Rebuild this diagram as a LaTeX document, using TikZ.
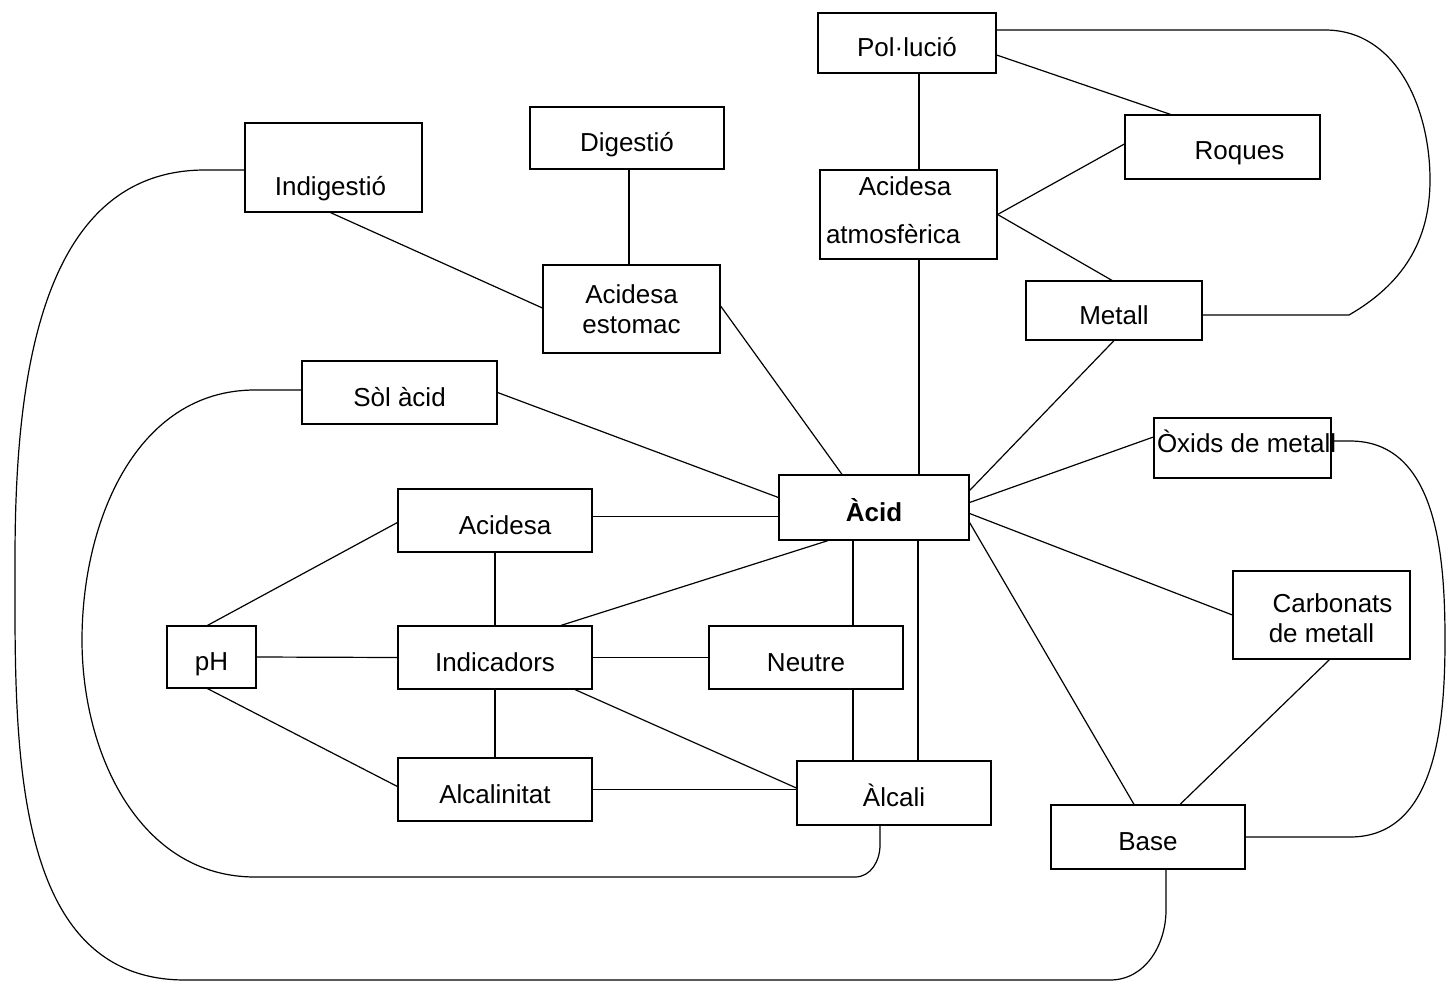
\documentclass[tikz,border=0pt]{standalone}
\usepackage{fontspec}
\setmainfont{Liberation Sans}
\begin{document}
\begin{tikzpicture}[x=1pt,y=-1pt,line width=1.2pt,
		every node/.style={font=\fontsize{26}{30}\selectfont,inner sep=0pt},
		box/.style={draw,rectangle,align=center,text height=32pt,text depth=5pt}]
	\useasboundingbox (0,0) rectangle (1448,982);
	% boxes
	\node[box,minimum width=178pt,minimum height=60pt] (pollucio) at (907,43) {Pol·lució};
	\node[box,minimum width=195pt,minimum height=64pt,label={[xshift=17pt,yshift=-6pt]center:Roques}] (roques) at (1222.5,147) {};
	\node[box,minimum width=194pt,minimum height=62pt] (digestio) at (627,138) {Digestió};
	\node[box,minimum width=177pt,minimum height=89pt,label={[xshift=-3pt,yshift=-21pt]center:Indigestió}] (indigestio) at (333.5,167.5) {};
	\node[box,minimum width=177pt,minimum height=89pt,label={[xshift=-3.5pt,yshift=28pt]center:Acidesa}] (acidatm) at (908.5,214.5) {};
	\node[anchor=west] (acidatm-b) at ([xshift=6pt,yshift=-19.5pt]acidatm.west) {atmosfèrica};
	\node[box,minimum width=177pt,minimum height=88pt,text height=,text depth=] (estomac) at (631.5,309) {Acidesa\\estomac};
	\node[box,minimum width=176pt,minimum height=59pt] (metall) at (1114,310.5) {Metall};
	\node[box,minimum width=195pt,minimum height=63pt] (solacid) at (399.5,392.5) {Sòl àcid};
	\node[box,minimum width=177pt,minimum height=60pt] (oxids) at (1242.5,448) {};
	\node[anchor=west] (oxids-t) at ([xshift=3pt,yshift=7pt]oxids.west) {Òxids de metall};
	\node[box,minimum width=190pt,minimum height=65pt,font=\fontsize{26}{30}\selectfont\bfseries] (acid) at (874,507.5) {Àcid};
	\node[box,minimum width=194pt,minimum height=63pt] (acidesa) at (495,520.5) {\hspace*{20pt}Acidesa};
	\node[box,minimum width=177pt,minimum height=88pt,label={[xshift=11pt,yshift=12pt]center:Carbonats},label={[yshift=-18pt]center:de metall}] (carbonats) at (1321.5,615) {};
	\node[box,minimum width=89pt,minimum height=62pt] (ph) at (211.5,657) {pH};
	\node[box,minimum width=194pt,minimum height=63pt] (indicadors) at (495,657.5) {Indicadors};
	\node[box,minimum width=194pt,minimum height=63pt] (neutre) at (806,657.5) {Neutre};
	\node[box,minimum width=194pt,minimum height=63pt] (alcalinitat) at (495,789.5) {Alcalinitat};
	\node[box,minimum width=194pt,minimum height=64pt] (alcali) at (894,793) {Àlcali};
	\node[box,minimum width=194pt,minimum height=64pt] (base) at (1148,837) {Base};

	% straight links
	\draw ([xshift=12pt]pollucio.south) -- ([xshift=12pt]pollucio.south |- acidatm.north);
	\draw ([yshift=-12pt]pollucio.east) -- ([xshift=-52pt]roques.north);
	\draw (acidatm.east) -- ([yshift=3pt]roques.west);
	\draw (acidatm.east) -- ([xshift=-2pt]metall.north);
	\draw ([xshift=10.5pt]acidatm.south) -- ([xshift=10.5pt]acidatm.south |- acid.north);
	\draw ([xshift=2pt]digestio.south) -- ([xshift=2pt]digestio.south |- estomac.north);
	\draw ([xshift=-3pt]indigestio.south) -- ([yshift=1pt]estomac.west);
	\draw ([yshift=3pt]estomac.east) -- ([xshift=-32pt]acid.north);
	\draw (metall.south) -- ([yshift=17pt]acid.east);
	\draw (solacid.east) -- ([yshift=10pt]acid.west);
	\draw ([yshift=5pt]acid.east) -- ([yshift=11pt]oxids.west);
	\draw ([yshift=-6pt]acid.east) -- (carbonats.west);
	\draw ([yshift=-15pt]acid.east) -- ([xshift=-14pt]base.north);
	\draw ([xshift=8pt]carbonats.south) -- ([xshift=32pt]base.north);
	\draw ([yshift=4pt]acidesa.east) -- ([yshift=4pt]acidesa.east -| acid.west);
	\draw ([xshift=-46pt]acid.south) -- ([xshift=66pt]indicadors.north);
	\draw ([xshift=-21pt]acid.south) -- ([xshift=-21pt]acid.south |- neutre.north);
	\draw ([xshift=44pt]acid.south) -- ([xshift=44pt]acid.south |- alcali.north);
	\draw ([yshift=-2pt]acidesa.west) -- ([xshift=-4pt]ph.north);
	\draw (acidesa.south) -- (indicadors.north);
	\draw (ph.east) -- (indicadors.west);
	\draw (indicadors.east) -- (neutre.west);
	\draw ([xshift=-4pt]ph.south) -- ([yshift=3pt]alcalinitat.west);
	\draw (indicadors.south) -- (alcalinitat.north);
	\draw ([xshift=80pt]indicadors.south) -- ([yshift=5pt]alcali.west);
	\draw (alcalinitat.east) -- (alcalinitat.east -| alcali.west);
	\draw ([xshift=47pt]neutre.south) -- ([xshift=47pt]neutre.south |- alcali.north);

	% curved links
	\draw ([yshift=13pt]pollucio.east) -- (1325,30) to[out=0,in=90] (1430,180)
		to[out=-90,in=30] (1349,315) -- ([yshift=-4.5pt]metall.east);
	\draw ([yshift=7pt]oxids.east) -- (1350,441) to[out=0,in=90] (1445,640)
		to[out=-90,in=0] (1350,837) -- (base.east);
	\draw ([yshift=-2.5pt]indigestio.west) -- (205,170) to[out=180,in=90] (15,560)
		to[out=-90,in=180] (185,980) -- (1110,980) to[out=0,in=-90] (1166,910)
		-- ([xshift=18pt]base.south);
	\draw ([yshift=2.5pt]solacid.west) -- (255,390) to[out=180,in=90] (82,640)
		to[out=-90,in=180] (255,877) -- (855,877) to[out=0,in=-90] (880,845)
		-- ([xshift=-14pt]alcali.south);
\end{tikzpicture}
\end{document}
